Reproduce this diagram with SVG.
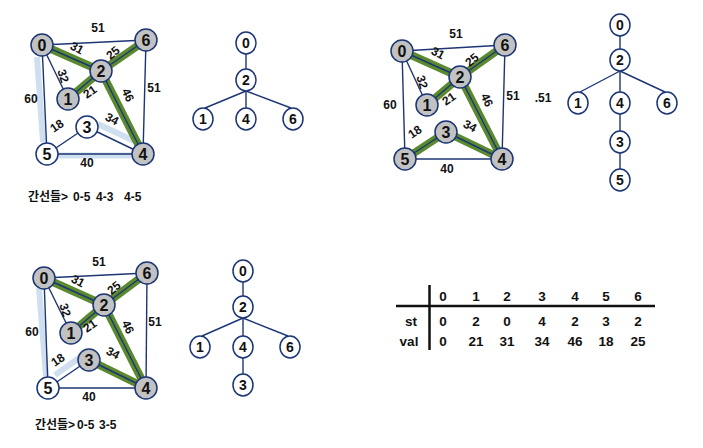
<svg xmlns="http://www.w3.org/2000/svg" width="703" height="448" viewBox="0 0 703 448">
<style>
.e{stroke:#1c3575;stroke-width:1.4;fill:none}
.g{stroke:#5b8a2e;stroke-width:8;fill:none}
.b{stroke:#cfdff0;stroke-width:6;fill:none}
.ng{fill:#c2c2c2;stroke:#1c3575;stroke-width:1.5}
.nw{fill:#fff;stroke:#1c3575;stroke-width:1.5}
.t{font-family:"Liberation Sans",Arial,sans-serif;font-weight:bold;fill:#111;text-anchor:middle;dominant-baseline:central}
.nl{font-size:16px}
.tl{font-size:14px}
.el{font-size:12px}
.tb{font-size:13.5px}
.k{font-family:"Liberation Sans","Noto Sans CJK KR",sans-serif;font-size:12px;font-weight:bold;fill:#111;dominant-baseline:central}
</style>
<rect width="703" height="448" fill="#fff"/>

<!-- Graph 1 -->
<g id="connectors-g1">
<line class="b" x1="37" y1="57" x2="43" y2="142"/>
<line class="b" x1="55" y1="155.5" x2="133" y2="155.5"/>
<line class="b" x1="98" y1="124" x2="134" y2="141"/>
<line class="g" x1="42" y1="45" x2="101" y2="71"/>
<line class="g" x1="101" y1="71" x2="146" y2="40"/>
<line class="g" x1="101" y1="71" x2="68" y2="99"/>
<line class="g" x1="101" y1="71" x2="143" y2="154"/>
<line class="e" x1="42" y1="45" x2="146" y2="40"/>
<line class="e" x1="42" y1="45" x2="101" y2="71"/>
<line class="e" x1="42" y1="45" x2="68" y2="99"/>
<line class="e" x1="42" y1="45" x2="47" y2="154"/>
<line class="e" x1="101" y1="71" x2="146" y2="40"/>
<line class="e" x1="101" y1="71" x2="68" y2="99"/>
<line class="e" x1="101" y1="71" x2="143" y2="154"/>
<line class="e" x1="146" y1="40" x2="143" y2="154"/>
<line class="e" x1="47" y1="154" x2="87" y2="127"/>
<line class="e" x1="47" y1="154" x2="143" y2="154"/>
<line class="e" x1="87" y1="127" x2="143" y2="154"/>
<text class="t el" x="98" y="28">51</text>
<text class="t el" x="77" y="48" transform="rotate(28 77 48)">31</text>
<text class="t el" x="113" y="53" transform="rotate(-40 113 53)">25</text>
<text class="t el" x="63" y="76" transform="rotate(72 63 76)">32</text>
<text class="t el" x="90" y="92" transform="rotate(-35 90 92)">21</text>
<text class="t el" x="128" y="95" transform="rotate(65 128 95)">46</text>
<text class="t el" x="154" y="88">51</text>
<text class="t el" x="31" y="99">60</text>
<text class="t el" x="57" y="126" transform="rotate(-35 57 126)">18</text>
<text class="t el" x="112" y="119" transform="rotate(28 112 119)">34</text>
<text class="t el" x="87" y="163">40</text>
</g>
<g id="g1-n0"><circle class="ng" cx="42" cy="45" r="11"/><text class="t nl" x="42" y="45">0</text></g>
<g id="g1-n6"><circle class="ng" cx="146" cy="40" r="11"/><text class="t nl" x="146" y="40">6</text></g>
<g id="g1-n2"><circle class="ng" cx="101" cy="71" r="11"/><text class="t nl" x="101" y="71">2</text></g>
<g id="g1-n1"><circle class="ng" cx="68" cy="99" r="11"/><text class="t nl" x="68" y="99">1</text></g>
<g id="g1-n3"><circle class="nw" cx="87" cy="127" r="11"/><text class="t nl" x="87" y="127">3</text></g>
<g id="g1-n5"><circle class="nw" cx="47" cy="154" r="11"/><text class="t nl" x="47" y="154">5</text></g>
<g id="g1-n4"><circle class="ng" cx="143" cy="154" r="11"/><text class="t nl" x="143" y="154">4</text></g>
<text class="k" x="28" y="197">간선들&gt;<tspan x="73">0-5</tspan><tspan x="96">4-3</tspan><tspan x="124">4-5</tspan></text>

<!-- Tree 1 -->
<g id="connectors-t1">
<line class="e" x1="246" y1="54" x2="246" y2="69"/>
<line class="e" x1="246" y1="91" x2="205" y2="108"/>
<line class="e" x1="246" y1="91" x2="246" y2="108"/>
<line class="e" x1="246" y1="91" x2="291" y2="108"/>
</g>
<g id="t1-n0"><ellipse class="nw" cx="246" cy="43" rx="10" ry="11"/><text class="t tl" x="246" y="43">0</text></g>
<g id="t1-n2"><ellipse class="nw" cx="246" cy="80" rx="10" ry="11"/><text class="t tl" x="246" y="80">2</text></g>
<g id="t1-n1"><ellipse class="nw" cx="203" cy="119" rx="10" ry="11"/><text class="t tl" x="203" y="119">1</text></g>
<g id="t1-n4"><ellipse class="nw" cx="246" cy="119" rx="10" ry="11"/><text class="t tl" x="246" y="119">4</text></g>
<g id="t1-n6"><ellipse class="nw" cx="293" cy="119" rx="10" ry="11"/><text class="t tl" x="293" y="119">6</text></g>

<!-- Graph 2 -->
<g id="connectors-g2">
<line class="g" x1="402" y1="51" x2="460" y2="77"/>
<line class="g" x1="460" y1="77" x2="505" y2="45"/>
<line class="g" x1="460" y1="77" x2="427" y2="105"/>
<line class="g" x1="460" y1="77" x2="502" y2="159"/>
<line class="g" x1="405" y1="159" x2="446" y2="132"/>
<line class="g" x1="446" y1="132" x2="502" y2="159"/>
<line class="e" x1="402" y1="51" x2="505" y2="45"/>
<line class="e" x1="402" y1="51" x2="460" y2="77"/>
<line class="e" x1="402" y1="51" x2="427" y2="105"/>
<line class="e" x1="402" y1="51" x2="405" y2="159"/>
<line class="e" x1="460" y1="77" x2="505" y2="45"/>
<line class="e" x1="460" y1="77" x2="427" y2="105"/>
<line class="e" x1="460" y1="77" x2="502" y2="159"/>
<line class="e" x1="505" y1="45" x2="502" y2="159"/>
<line class="e" x1="405" y1="159" x2="446" y2="132"/>
<line class="e" x1="405" y1="159" x2="502" y2="159"/>
<line class="e" x1="446" y1="132" x2="502" y2="159"/>
<text class="t el" x="456" y="34">51</text>
<text class="t el" x="438" y="53" transform="rotate(28 438 53)">31</text>
<text class="t el" x="472" y="60" transform="rotate(-40 472 60)">25</text>
<text class="t el" x="422" y="82" transform="rotate(72 422 82)">32</text>
<text class="t el" x="449" y="99" transform="rotate(-35 449 99)">21</text>
<text class="t el" x="487" y="100" transform="rotate(65 487 100)">46</text>
<text class="t el" x="513" y="96">51</text>
<text class="t el" x="390" y="105">60</text>
<text class="t el" x="415" y="132" transform="rotate(-35 415 132)">18</text>
<text class="t el" x="470" y="126" transform="rotate(28 470 126)">34</text>
<text class="t el" x="447" y="169">40</text>
</g>
<text class="t el" x="543" y="98">.51</text>
<g id="g2-n0"><circle class="ng" cx="402" cy="51" r="11"/><text class="t nl" x="402" y="51">0</text></g>
<g id="g2-n6"><circle class="ng" cx="505" cy="45" r="11"/><text class="t nl" x="505" y="45">6</text></g>
<g id="g2-n2"><circle class="ng" cx="460" cy="77" r="11"/><text class="t nl" x="460" y="77">2</text></g>
<g id="g2-n1"><circle class="ng" cx="427" cy="105" r="11"/><text class="t nl" x="427" y="105">1</text></g>
<g id="g2-n3"><circle class="ng" cx="446" cy="132" r="11"/><text class="t nl" x="446" y="132">3</text></g>
<g id="g2-n5"><circle class="ng" cx="405" cy="159" r="11"/><text class="t nl" x="405" y="159">5</text></g>
<g id="g2-n4"><circle class="ng" cx="502" cy="159" r="11"/><text class="t nl" x="502" y="159">4</text></g>

<!-- Tree 2 -->
<g id="connectors-t2">
<line class="e" x1="620" y1="36" x2="620" y2="49"/>
<line class="e" x1="620" y1="71" x2="580" y2="92"/>
<line class="e" x1="620" y1="71" x2="620" y2="92"/>
<line class="e" x1="620" y1="71" x2="665" y2="92"/>
<line class="e" x1="620" y1="114" x2="620" y2="131"/>
<line class="e" x1="620" y1="153" x2="620" y2="169"/>
</g>
<g id="t2-n0"><ellipse class="nw" cx="620" cy="25" rx="10" ry="11"/><text class="t tl" x="620" y="25">0</text></g>
<g id="t2-n2"><ellipse class="nw" cx="620" cy="60" rx="10" ry="11"/><text class="t tl" x="620" y="60">2</text></g>
<g id="t2-n1"><ellipse class="nw" cx="578" cy="103" rx="10" ry="11"/><text class="t tl" x="578" y="103">1</text></g>
<g id="t2-n4"><ellipse class="nw" cx="620" cy="103" rx="10" ry="11"/><text class="t tl" x="620" y="103">4</text></g>
<g id="t2-n6"><ellipse class="nw" cx="667" cy="103" rx="10" ry="11"/><text class="t tl" x="667" y="103">6</text></g>
<g id="t2-n3"><ellipse class="nw" cx="620" cy="142" rx="10" ry="11"/><text class="t tl" x="620" y="142">3</text></g>
<g id="t2-n5"><ellipse class="nw" cx="620" cy="180" rx="10" ry="11"/><text class="t tl" x="620" y="180">5</text></g>

<!-- Graph 3 -->
<g id="connectors-g3">
<line class="b" x1="39" y1="288" x2="46" y2="376"/>
<line class="b" x1="55" y1="375" x2="82" y2="356"/>
<line class="g" x1="44" y1="278" x2="104" y2="305"/>
<line class="g" x1="104" y1="305" x2="147" y2="273"/>
<line class="g" x1="104" y1="305" x2="71" y2="333"/>
<line class="g" x1="104" y1="305" x2="146" y2="388"/>
<line class="g" x1="89" y1="360" x2="146" y2="388"/>
<line class="e" x1="44" y1="278" x2="147" y2="273"/>
<line class="e" x1="44" y1="278" x2="104" y2="305"/>
<line class="e" x1="44" y1="278" x2="71" y2="333"/>
<line class="e" x1="44" y1="278" x2="48" y2="388"/>
<line class="e" x1="104" y1="305" x2="147" y2="273"/>
<line class="e" x1="104" y1="305" x2="71" y2="333"/>
<line class="e" x1="104" y1="305" x2="146" y2="388"/>
<line class="e" x1="147" y1="273" x2="146" y2="388"/>
<line class="e" x1="48" y1="388" x2="89" y2="360"/>
<line class="e" x1="48" y1="388" x2="146" y2="388"/>
<line class="e" x1="89" y1="360" x2="146" y2="388"/>
<text class="t el" x="99" y="262">51</text>
<text class="t el" x="78" y="281" transform="rotate(28 78 281)">31</text>
<text class="t el" x="114" y="288" transform="rotate(-40 114 288)">25</text>
<text class="t el" x="65" y="310" transform="rotate(72 65 310)">32</text>
<text class="t el" x="90" y="326" transform="rotate(-35 90 326)">21</text>
<text class="t el" x="128" y="327" transform="rotate(65 128 327)">46</text>
<text class="t el" x="155" y="322">51</text>
<text class="t el" x="32" y="332">60</text>
<text class="t el" x="58" y="360" transform="rotate(-35 58 360)">18</text>
<text class="t el" x="113" y="353" transform="rotate(28 113 353)">34</text>
<text class="t el" x="89" y="397">40</text>
</g>
<g id="g3-n0"><circle class="ng" cx="44" cy="278" r="11"/><text class="t nl" x="44" y="278">0</text></g>
<g id="g3-n6"><circle class="ng" cx="147" cy="273" r="11"/><text class="t nl" x="147" y="273">6</text></g>
<g id="g3-n2"><circle class="ng" cx="104" cy="305" r="11"/><text class="t nl" x="104" y="305">2</text></g>
<g id="g3-n1"><circle class="ng" cx="71" cy="333" r="11"/><text class="t nl" x="71" y="333">1</text></g>
<g id="g3-n3"><circle class="ng" cx="89" cy="360" r="11"/><text class="t nl" x="89" y="360">3</text></g>
<g id="g3-n5"><circle class="nw" cx="48" cy="388" r="11"/><text class="t nl" x="48" y="388">5</text></g>
<g id="g3-n4"><circle class="ng" cx="146" cy="388" r="11"/><text class="t nl" x="146" y="388">4</text></g>
<text class="k" x="35" y="425">간선들&gt;<tspan x="77">0-5</tspan><tspan x="99">3-5</tspan></text>

<!-- Tree 3 -->
<g id="connectors-t3">
<line class="e" x1="243" y1="282" x2="243" y2="296"/>
<line class="e" x1="243" y1="318" x2="202" y2="336"/>
<line class="e" x1="243" y1="318" x2="243" y2="336"/>
<line class="e" x1="243" y1="318" x2="288" y2="336"/>
<line class="e" x1="243" y1="358" x2="243" y2="374"/>
</g>
<g id="t3-n0"><ellipse class="nw" cx="243" cy="271" rx="10" ry="11"/><text class="t tl" x="243" y="271">0</text></g>
<g id="t3-n2"><ellipse class="nw" cx="243" cy="307" rx="10" ry="11"/><text class="t tl" x="243" y="307">2</text></g>
<g id="t3-n1"><ellipse class="nw" cx="200" cy="347" rx="10" ry="11"/><text class="t tl" x="200" y="347">1</text></g>
<g id="t3-n4"><ellipse class="nw" cx="243" cy="347" rx="10" ry="11"/><text class="t tl" x="243" y="347">4</text></g>
<g id="t3-n6"><ellipse class="nw" cx="290" cy="347" rx="10" ry="11"/><text class="t tl" x="290" y="347">6</text></g>
<g id="t3-n3"><ellipse class="nw" cx="243" cy="385" rx="10" ry="11"/><text class="t tl" x="243" y="385">3</text></g>

<!-- Table -->
<g id="table">
<line x1="396" y1="306" x2="655" y2="306" stroke="#111" stroke-width="2.5"/>
<line x1="429.5" y1="285" x2="429.5" y2="350" stroke="#111" stroke-width="2.5"/>
<g class="t tb">
<text x="443" y="296">0</text><text x="476" y="296">1</text><text x="507" y="296">2</text><text x="542" y="296">3</text><text x="575" y="296">4</text><text x="606" y="296">5</text><text x="638" y="296">6</text>
<text x="411" y="321">st</text>
<text x="443" y="321">0</text><text x="476" y="321">2</text><text x="507" y="321">0</text><text x="542" y="321">4</text><text x="575" y="321">2</text><text x="606" y="321">3</text><text x="638" y="321">2</text>
<text x="409" y="341">val</text>
<text x="443" y="341">0</text><text x="476" y="341">21</text><text x="507" y="341">31</text><text x="542" y="341">34</text><text x="575" y="341">46</text><text x="606" y="341">18</text><text x="638" y="341">25</text>
</g>
</g>
</svg>
